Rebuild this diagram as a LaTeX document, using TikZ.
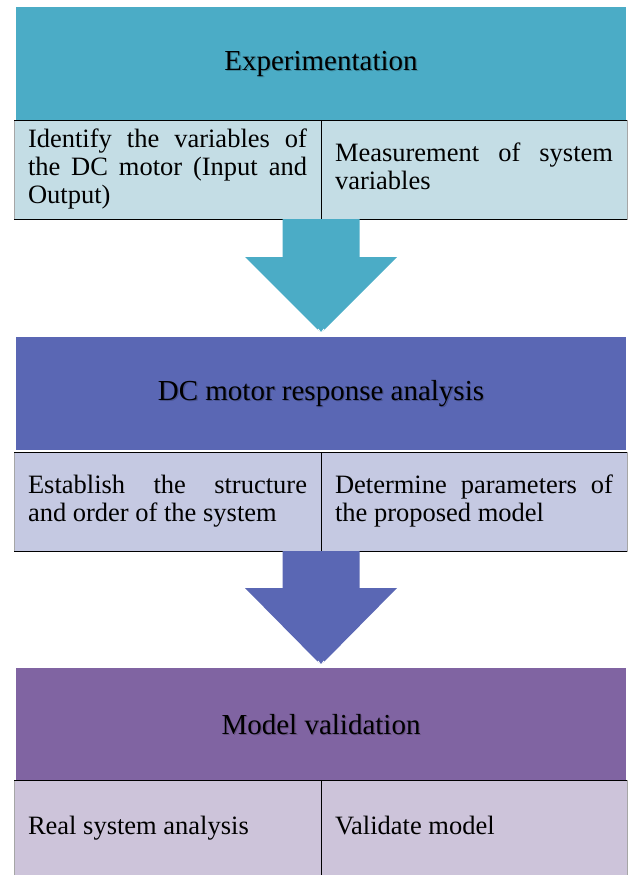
\documentclass[tikz,border=0pt]{standalone}
\usepackage{fontspec}
\setmainfont{Liberation Serif}
\usetikzlibrary{calc}
\definecolor{hA}{RGB}{75,172,198}
\definecolor{cA}{RGB}{196,221,229}
\definecolor{hB}{RGB}{90,103,180}
\definecolor{cB}{RGB}{197,201,226}
\definecolor{hC}{RGB}{128,100,162}
\definecolor{cC}{RGB}{205,196,218}
\newcommand\myhead{\fontsize{29}{32}\selectfont}
\newcommand\mycell{\fontsize{26.5}{28}\selectfont\hyphenpenalty=10000\relax\tolerance=9999\relax}
\begin{document}
\begin{tikzpicture}[x=1pt,y=-1pt,
  headbox/.style={minimum width=610pt, minimum height=113pt, inner sep=0pt, outer sep=0pt, anchor=north west},
  headtxt/.style={inner sep=0pt, font=\myhead},
  headshadow/.style={inner sep=0pt, font=\myhead, text=black, text opacity=0.2},
  cellbox/.style={inner xsep=14pt, inner ysep=0pt, outer sep=0pt, minimum height=99pt, anchor=north west,
    draw=black!35, line width=0.6pt, font=\mycell, align=justify},
  rule/.style={black, line width=0.9pt},
  blockarrow/.style={draw=white, line width=1pt}
]
\useasboundingbox (0,0) rectangle (629,875);
\clip (0,0) rectangle (629,875);

% ---------- section 1 ----------
\node[headbox, fill=hA] (h1) at (16,7) {};
\node[headshadow] at ($(h1.center)+(1.2,1.2)$) {Experimentation};
\node[headtxt] (h1t) at (h1.center) {Experimentation};
\node[cellbox, fill=cA, text width=279pt] (c1l) at (14,120)
  {\strut Identify the variables of\linebreak the DC motor (Input and\linebreak Output)\strut};
\node[cellbox, fill=cA, text width=278pt] (c1r) at (c1l.north east)
  {\strut Measurement of system\linebreak variables\strut};
\draw[rule] (c1l.north west) -- (c1r.north east);
\draw[rule] (c1l.south west) -- (c1r.south east);
\draw[rule] (c1l.north east) -- (c1l.south east);

% ---------- section 2 ----------
\node[headbox, fill=hB] (h2) at (16,337) {};
\node[headshadow] at ($(h2.center)+(1.2,1.2)$) {DC motor response analysis};
\node[headtxt] (h2t) at (h2.center) {DC motor response analysis};
\node[cellbox, fill=cB, text width=279pt] (c2l) at (14,452)
  {\strut Establish the structure\linebreak and order of the system\strut};
\node[cellbox, fill=cB, text width=278pt] (c2r) at (c2l.north east)
  {\strut Determine parameters of\linebreak the proposed model\strut};
\draw[rule] (c2l.north west) -- (c2r.north east);
\draw[rule] (c2l.south west) -- (c2r.south east);
\draw[rule] (c2l.north east) -- (c2l.south east);

% ---------- section 3 ----------
\node[headbox, fill=hC] (h3) at (16,668) {};
\node[headshadow] at ($(h3.center)+(1.2,1.2)$) {Model validation};
\node[headtxt] (h3t) at (h3.center) {Model validation};
\node[cellbox, fill=cC, text width=279pt, minimum height=98pt] (c3l) at (14,780)
  {\strut Real system analysis\strut};
\node[cellbox, fill=cC, text width=278pt, minimum height=98pt] (c3r) at (c3l.north east)
  {\strut Validate model\strut};
\draw[rule] (c3l.north west) -- (c3r.north east);
\draw[rule] (c3l.north east) -- (c3l.south east);

% ---------- block arrows ----------
\coordinate (a1) at (c1l.south east);
\coordinate (t1) at ($(h2.north)+(0,-4)$);
\fill[hA] ($(a1)+(-38.5,0)$) -- ($(a1)+(38.5,0)$) -- ($(a1)+(38.5,38)$) -- ($(a1)+(76,38)$)
  -- (t1) -- ($(a1)+(-76,38)$) -- ($(a1)+(-38.5,38)$) -- cycle;
\draw[blockarrow] ($(t1)+(-3,-4)$) -- (t1) -- ($(t1)+(3,-4)$);

\coordinate (a2) at (c2l.south east);
\coordinate (t2) at ($(h3.north)+(0,-3)$);
\fill[hB] ($(a2)+(-38.5,0)$) -- ($(a2)+(38.5,0)$) -- ($(a2)+(38.5,37)$) -- ($(a2)+(76,37)$)
  -- (t2) -- ($(a2)+(-76,37)$) -- ($(a2)+(-38.5,37)$) -- cycle;
\draw[blockarrow] ($(t2)+(-3,-4)$) -- (t2) -- ($(t2)+(3,-4)$);
\end{tikzpicture}
\end{document}
